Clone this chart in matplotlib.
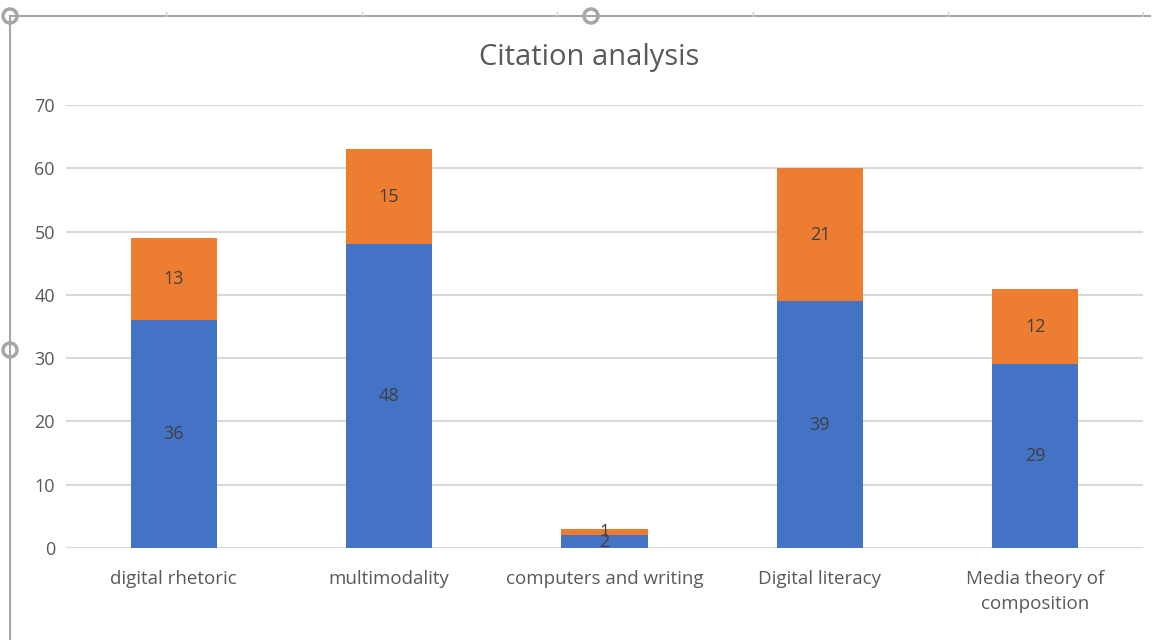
import matplotlib.pyplot as plt
from matplotlib.lines import Line2D
from matplotlib.patches import Ellipse

categories = ["digital rhetoric", "multimodality", "computers and writing",
              "Digital literacy", "Media theory of\ncomposition"]
series1 = [36, 48, 2, 39, 29]
series2 = [13, 15, 1, 21, 12]

blue = "#4472C4"
orange = "#ED7D31"
txt = "#595959"

plt.rcParams['font.family'] = ['Open Sans', 'DejaVu Sans']

fig = plt.figure(figsize=(11.62, 6.40), dpi=100)
ax = fig.add_axes([66 / 1162, 1 - 548 / 640, 1077 / 1162, 443 / 640])

x = list(range(len(categories)))
b1 = ax.bar(x, series1, width=0.4, color=blue, zorder=3)
b2 = ax.bar(x, series2, width=0.4, bottom=series1, color=orange, zorder=3)
ax.bar_label(b1, label_type='center', color="#404040", fontsize=13)
ax.bar_label(b2, label_type='center', color="#404040", fontsize=13)

ax.set_xlim(-0.5, len(categories) - 0.5)
ax.set_ylim(0, 70)
ax.set_yticks(range(0, 71, 10))
ax.set_xticks(x)
ax.set_xticklabels(categories, color=txt, fontsize=13.5, linespacing=1.45)
ax.tick_params(axis='y', colors=txt, labelsize=13, length=0, pad=8)
ax.tick_params(axis='x', length=0, pad=16)
ax.yaxis.grid(True, color="#d9d9d9", linewidth=1.5, zorder=0)
for s in ax.spines.values():
    s.set_visible(False)

fig.text(589 / 1162, 1 - 57 / 640, "Citation analysis", ha='center', va='center',
         fontsize=21, color=txt)

# selection frame around the chart
frame = "#a6a6a6"
W, H = 1162, 640
fig.add_artist(Line2D([10 / W, 1150 / W], [1 - 16 / H] * 2, color=frame, lw=1.5))
fig.add_artist(Line2D([10 / W] * 2, [1 - 16 / H, 0], color=frame, lw=1.5))
for tx in [166, 362, 557, 753, 948, 1143]:
    fig.add_artist(Line2D([tx / W] * 2, [1 - 12 / H, 1 - 16 / H], color="#d0d0d0", lw=1))
for cx, cy in [(10, 16), (591, 16), (10, 350)]:
    c = Ellipse((cx / W, 1 - cy / H), 14 / W, 14 / H, transform=fig.transFigure,
                facecolor='white', edgecolor=frame, lw=2.5)
    fig.add_artist(c)

fig.savefig("out.png", dpi=100)
